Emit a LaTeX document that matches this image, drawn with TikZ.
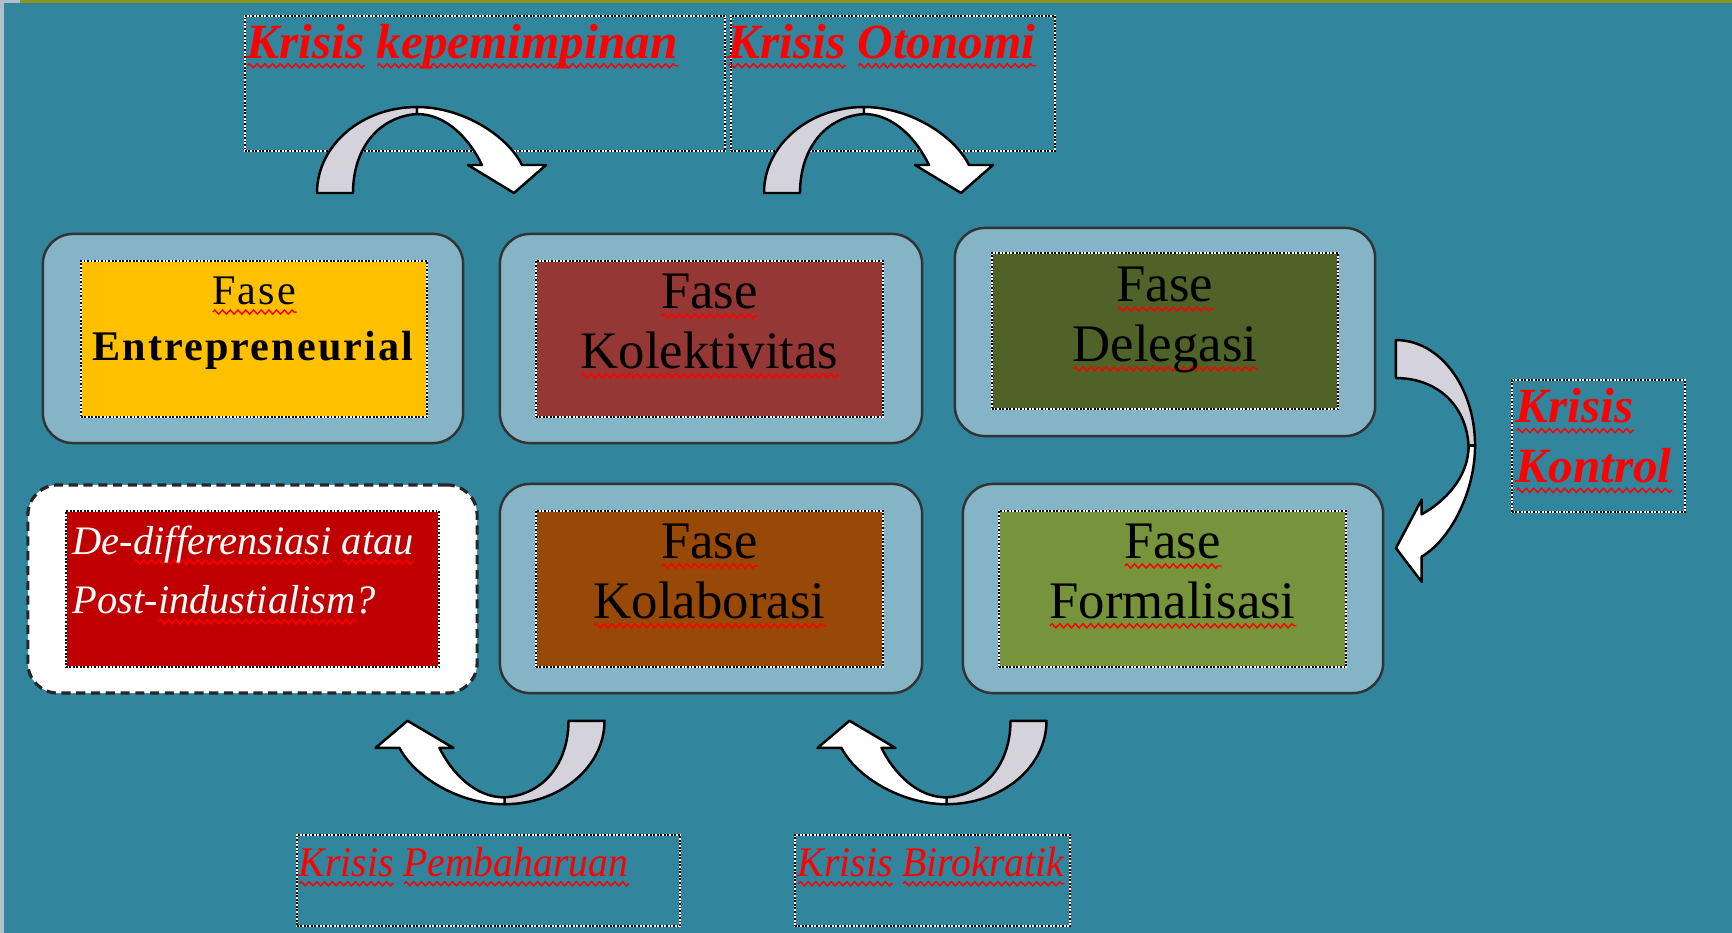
\documentclass[tikz,border=0pt]{standalone}
\usepackage{fontspec}
\setmainfont{Liberation Serif}
\usetikzlibrary{decorations.pathmorphing}
\newsavebox\wavebox
\newlength\wavelen
\newcommand\redwave[1]{\sbox\wavebox{#1}\setlength\wavelen{\wd\wavebox}\leavevmode\rlap{\raisebox{-3pt}[0pt][0pt]{\tikz\draw[red,line width=0.4pt,decorate,decoration={zigzag,amplitude=0.6pt,segment length=2.2pt}] (0pt,0pt) -- (\wavelen,0pt);}}\usebox\wavebox}
\definecolor{sea}{RGB}{49,133,156}
\definecolor{frameblue}{RGB}{132,180,198}
\definecolor{fasegold}{RGB}{255,192,0}
\definecolor{faserust}{RGB}{149,55,53}
\definecolor{fasemoss}{RGB}{79,98,40}
\definecolor{fasebrown}{RGB}{152,72,7}
\definecolor{faseleaf}{RGB}{119,147,60}
\definecolor{fasecrimson}{RGB}{192,0,0}
\definecolor{arrowgray}{RGB}{212,210,218}
\definecolor{stripolive}{RGB}{140,150,30}
\definecolor{edgegray}{RGB}{175,192,203}
\tikzset{pics/bentarrow/.style={code={
\filldraw[fill=arrowgray,draw=black,line width=0.7pt,line join=round] (-115,43) .. controls (-115,-5) and (-70,-43) .. (-15,-43) -- (-15,-36) .. controls (-55,-33) and (-79,0) .. (-79,43) -- cycle;
\filldraw[fill=white,draw=black,line width=0.7pt,line join=round] (-15,-43) .. controls (30,-43) and (75,-15) .. (90,15) -- (114,15) -- (82,43) -- (36,15) -- (50,15) .. controls (38,-10) and (15,-36) .. (-15,-36) -- cycle;
}}}
\begin{document}
\begin{tikzpicture}[x=0.01cm,y=-0.01cm,font=\fontsize{15}{17}\selectfont,outerbox/.style={draw=black!80,line width=0.7pt,fill=frameblue,rounded corners=0.3cm,inner sep=0pt},innerbox/.style={draw=white,line width=0.5pt,postaction={draw=black,line width=0.5pt,dash pattern=on 0.5pt off 0.5pt},inner sep=0pt},phase/.style={align=center,inner sep=0pt,anchor=north},crisis/.style={text=red,font=\fontsize{14}{17}\selectfont\bfseries\itshape,inner sep=0pt},crisisthin/.style={text=red,font=\fontsize{12}{14}\selectfont\itshape\addfontfeature{FakeStretch=0.94},inner sep=0pt}]
\fill[sea] (0,0) rectangle (1732,933); \fill[stripolive] (20,0) rectangle (1732,3); \fill[edgegray] (0,0) rectangle (4,933); \fill[edgegray] (0,0) rectangle (20,3);
\node[innerbox,minimum width=4.8cm,minimum height=1.35cm] (kbox1) at (485,83.5) {}; \node[crisis,anchor=base west] (krisis1) at (246,58) {\redwave{Krisis} \redwave{kepemimpinan}};
\node[innerbox,minimum width=3.24cm,minimum height=1.35cm] (kbox2) at (893,83.5) {}; \node[crisis,anchor=base west] (krisis2) at (727,58) {\redwave{Krisis} \redwave{Otonomi}};
\node[innerbox,minimum width=1.73cm,minimum height=1.32cm] (kbox3) at (1598.5,446) {}; \node[crisis,anchor=north west,align=left] (krisis3) at (1515,388) {\redwave{Krisis}\\\redwave{Kontrol}};
\node[innerbox,minimum width=3.83cm,minimum height=0.91cm] (kbox4) at (488.5,880.5) {}; \node[crisisthin,anchor=base west] (krisis4) at (298,876) {\redwave{Krisis} \redwave{Pembaharuan}};
\node[innerbox,minimum width=2.75cm,minimum height=0.91cm] (kbox5) at (932.5,880.5) {}; \node[crisisthin,anchor=base west] (krisis5) at (797,876) {\redwave{Krisis} \redwave{Birokratik}};
\node[outerbox,minimum width=4.2cm,minimum height=2.09cm] (outer1) at (253,338.5) {}; \node[innerbox,fill=fasegold,minimum width=3.46cm,minimum height=1.56cm] (inner1) at (254,339) {};
\node[phase,font=\fontsize{12}{16}\selectfont\addfontfeature{LetterSpace=5}] (fase1) at (254,276) {\redwave{Fase}\\\textbf{Entrepreneurial}};
\node[outerbox,minimum width=4.22cm,minimum height=2.09cm] (outer2) at (711,338.5) {}; \node[innerbox,fill=faserust,minimum width=3.47cm,minimum height=1.56cm] (inner2) at (709.5,339) {};
\node[phase] (fase2) at (709.5,273) {\redwave{Fase}\\\redwave{Kolektivitas}};
\node[outerbox,minimum width=4.2cm,minimum height=2.08cm] (outer3) at (1165,332) {}; \node[innerbox,fill=fasemoss,minimum width=3.46cm,minimum height=1.56cm] (inner3) at (1165,331) {};
\node[phase] (fase3) at (1165,266) {\redwave{Fase}\\\redwave{Delegasi}};
\node[outerbox,minimum width=4.22cm,minimum height=2.09cm] (outer4) at (711,588.5) {}; \node[innerbox,fill=fasebrown,minimum width=3.47cm,minimum height=1.56cm] (inner4) at (709.5,589) {};
\node[phase] (fase4) at (709.5,523) {\redwave{Fase}\\\redwave{Kolaborasi}};
\node[outerbox,minimum width=4.2cm,minimum height=2.09cm] (outer5) at (1173,588.5) {}; \node[innerbox,fill=faseleaf,minimum width=3.47cm,minimum height=1.56cm] (inner5) at (1172.5,589) {};
\node[phase] (fase5) at (1172.5,523) {\redwave{Fase}\\\redwave{Formalisasi}};
\node[outerbox,fill=white,draw=black!85,line width=0.9pt,dash pattern=on 2.6pt off 1.6pt,minimum width=4.49cm,minimum height=2.08cm] (outer6) at (252.5,589) {}; \node[innerbox,fill=fasecrimson,minimum width=3.73cm,minimum height=1.56cm] (inner6) at (252.5,589) {};
\node[align=left,anchor=north west,inner sep=0pt,text=white,font=\fontsize{11.5}{17}\selectfont\itshape] (fase6) at (72,525) {De-\redwave{differensiasi} \redwave{atau}\\Post-\redwave{industialism}?};
\pic at (432,150) {bentarrow}; \pic at (879,150) {bentarrow};
\pic[rotate=-90,xscale=1.056,yscale=0.92] at (1435.5,461.5) {bentarrow};
\pic[rotate=180,yscale=0.97] at (489.5,762.5) {bentarrow}; \pic[rotate=180,yscale=0.97] at (931.5,762.5) {bentarrow};
\end{tikzpicture}
\end{document}
